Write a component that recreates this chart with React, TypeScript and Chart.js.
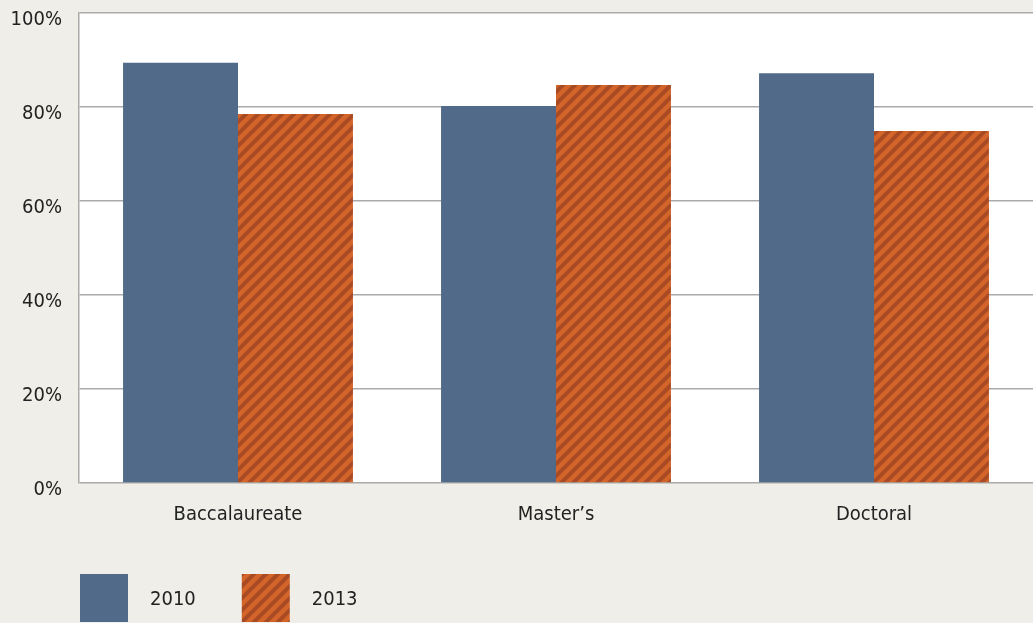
import React, { useEffect, useRef } from "react";
import { Chart, registerables } from "chart.js";

Chart.register(...registerables);

const categories = ["Baccalaureate", "Master\u2019s", "Doctoral"];
const seriesLabels = ["2010", "2013"];
const values2010 = [89.4, 80.2, 87.2];
const values2013 = [78.5, 84.7, 74.9];
const yTickValues = [0, 20, 40, 60, 80, 100];

const FONT = "'DejaVu Sans Condensed', 'Liberation Sans Narrow', sans-serif";
const FONT_SIZE = 20;
const BG = "#efeee8";
const BLUE = "#526a89";
const ORANGE_LIGHT = "#d3642a";
const ORANGE_DARK = "#a84b24";
const TEXT = "#222222";

function makeStripePattern(ctx: CanvasRenderingContext2D): CanvasPattern | string {
  const s = 12;
  const c = document.createElement("canvas");
  c.width = s;
  c.height = s;
  const g = c.getContext("2d");
  if (!g) return ORANGE_LIGHT;
  g.fillStyle = ORANGE_LIGHT;
  g.fillRect(0, 0, s, s);
  g.strokeStyle = ORANGE_DARK;
  g.lineWidth = 4;
  for (let k = -1; k <= 1; k++) {
    g.beginPath();
    g.moveTo(k * s - 2, s + 2);
    g.lineTo(k * s + s + 2, -2);
    g.stroke();
  }
  return ctx.createPattern(c, "repeat") || ORANGE_LIGHT;
}

export default function App() {
  const ref = useRef<HTMLCanvasElement | null>(null);

  useEffect(() => {
    document.body.style.margin = "0";
    document.body.style.background = BG;
    const canvas = ref.current;
    if (!canvas) return;
    const ctx = canvas.getContext("2d")!;
    const stripes = makeStripePattern(ctx);

    const bgPlugin = {
      id: "bgPlugin",
      beforeDraw(chart: any) {
        const { ctx, chartArea, width, height } = chart;
        ctx.save();
        ctx.fillStyle = BG;
        ctx.fillRect(0, 0, width, height);
        ctx.fillStyle = "#ffffff";
        ctx.fillRect(chartArea.left, chartArea.top, chartArea.right - chartArea.left, chartArea.bottom - chartArea.top);
        ctx.restore();
      },
    };

    const legendPlugin = {
      id: "customLegend",
      afterDraw(chart: any) {
        const { ctx, chartArea } = chart;
        const box = 48;
        const top = chartArea.bottom + 91;
        let x = chartArea.left + 1;
        ctx.save();
        ctx.font = `${FONT_SIZE}px ${FONT}`;
        ctx.textBaseline = "middle";
        ctx.textAlign = "left";
        chart.data.datasets.forEach((ds: any) => {
          ctx.fillStyle = ds.backgroundColor;
          ctx.fillRect(x, top, box, box);
          const tx = x + box + 22;
          ctx.fillStyle = TEXT;
          ctx.fillText(ds.label, tx, top + 26);
          x = tx + ctx.measureText(ds.label).width + 46;
        });
        ctx.restore();
      },
    };

    const chart = new Chart(ctx, {
      type: "bar",
      data: {
        labels: categories,
        datasets: [
          { label: seriesLabels[0], data: values2010, backgroundColor: BLUE, borderWidth: 0 },
          { label: seriesLabels[1], data: values2013, backgroundColor: stripes as any, borderWidth: 0 },
        ],
      },
      options: {
        animation: false,
        responsive: false,
        maintainAspectRatio: false,
        layout: { padding: { top: 13, right: 0, left: 0, bottom: 90 } },
        plugins: {
          legend: { display: false },
          tooltip: { enabled: false },
        },
        datasets: {
          bar: { categoryPercentage: 0.723, barPercentage: 1.0 },
        },
        scales: {
          x: {
            grid: { display: false, drawTicks: false },
            border: { display: false },
            afterFit(s: any) {
              s.height = 50;
              s.paddingLeft = 0;
              s.paddingRight = 0;
            },
            ticks: { color: TEXT, font: { family: FONT, size: FONT_SIZE }, padding: 20 },
          },
          y: {
            min: 0,
            max: 100,
            afterBuildTicks(axis: any) {
              axis.ticks = yTickValues.map((v) => ({ value: v }));
            },
            afterFit(s: any) {
              s.width = 79;
              s.paddingTop = 0;
              s.paddingBottom = 0;
            },
            grid: { color: "#aaaaaa", lineWidth: 1.5, drawTicks: false },
            border: { display: true, color: "#aaaaaa", width: 1.5 },
            ticks: {
              color: TEXT,
              font: { family: FONT, size: FONT_SIZE },
              padding: 17,
              labelOffset: 7,
              callback: (v: any) => `${v}%`,
            },
          },
        },
      },
      plugins: [bgPlugin, legendPlugin],
    });

    return () => chart.destroy();
  }, []);

  return (
    <div style={{ width: 1033, height: 623, overflow: "hidden", background: BG }}>
      <canvas ref={ref} width={1033} height={623} style={{ display: "block" }} />
    </div>
  );
}
